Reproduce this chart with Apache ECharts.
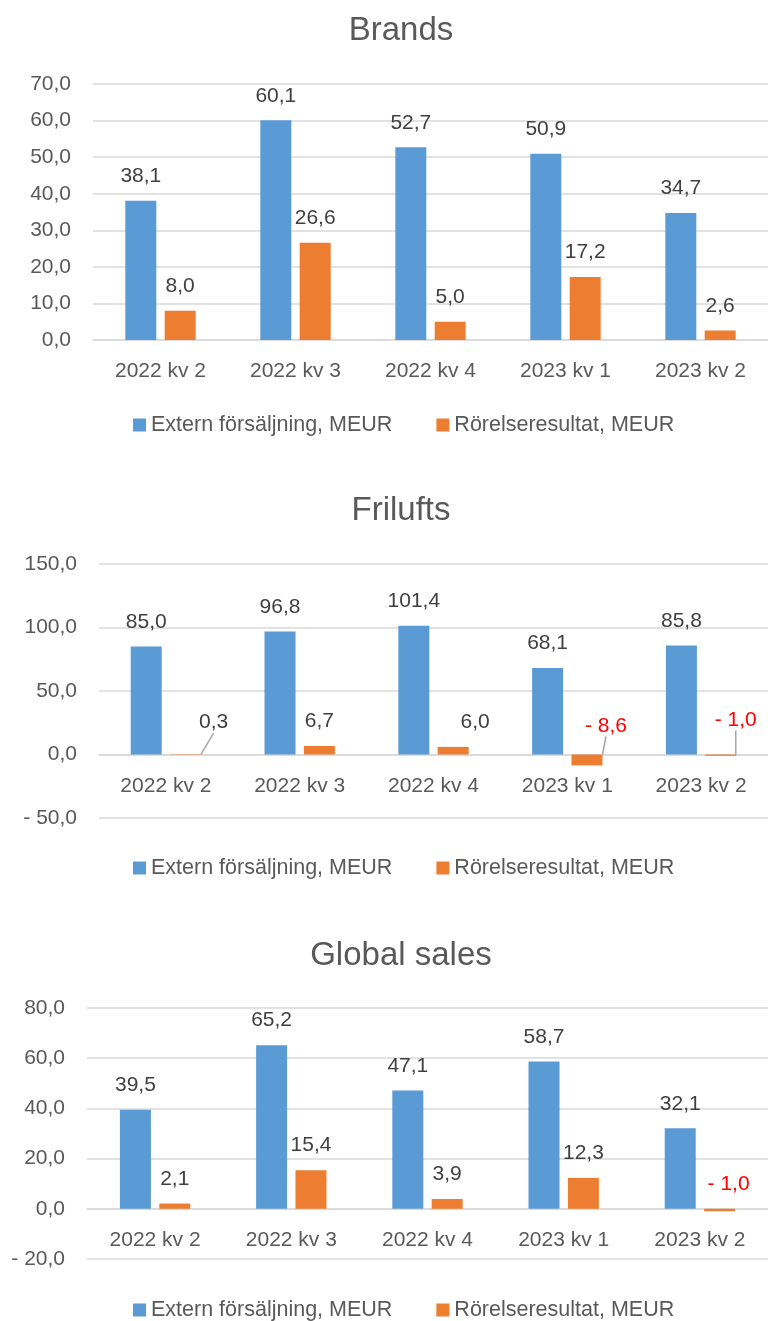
<!DOCTYPE html>
<html>
<head>
<meta charset="utf-8">
<script src="https://cdn.jsdelivr.net/npm/echarts@6/dist/echarts.min.js"></script>
<style>
  html, body { margin: 0; padding: 0; background: #fff; }
  #main { width: 768px; height: 1321px; }
</style>
</head>
<body>
<div id="main"></div>
<script>
// data
const categories = ['2022 kv 2', '2022 kv 3', '2022 kv 4', '2023 kv 1', '2023 kv 2']
const seriesNames = ['Extern försäljning, MEUR', 'Rörelseresultat, MEUR']
const chartTitles = ['Brands', 'Frilufts', 'Global sales']

const brandsSales = [38.1, 60.1, 52.7, 50.9, 34.7]
const brandsResult = [8.0, 26.6, 5.0, 17.2, 2.6]
const friluftsSales = [85.0, 96.8, 101.4, 68.1, 85.8]
const friluftsResult = [0.3, 6.7, 6.0, -8.6, -1.0]
const globalSales = [39.5, 65.2, 47.1, 58.7, 32.1]
const globalResult = [2.1, 15.4, 3.9, 12.3, -1.0]

// y axis ticks: min, max, step
const yMin = [0, -50, -20]
const yMax = [70, 150, 80]
const yStep = [10, 50, 20]

// layout / styling
const FONT = 'Liberation Sans'
const BLUE = '#5B9BD5'
const ORANGE = '#ED7D31'
const GRID_COLOR = '#D9D9D9'
const grids = [
  { left: 93, top: 84, width: 680, height: 256 },
  { left: 99, top: 564, width: 676, height: 254 },
  { left: 87, top: 1008, width: 690, height: 251 }
]
const titleTops = [9, 489, 934]
const legendTops = [409, 852, 1294]
// moved labels on the result series (Excel had them dragged)
const labelShift = [
  {},
  { 0: [28, -7], 2: [22, 0], 3: [19, -4], 4: [15, -10] },
  { 4: [9, 0] }
]
const leaderLines = [[], [0, 3, 4], []]

const fmt = (v) => {
  const s = Math.abs(v).toFixed(1).replace('.', ',')
  return v < 0 ? '- ' + s : s
}

const salesData = [brandsSales, friluftsSales, globalSales]
const resultData = [brandsResult, friluftsResult, globalResult]

const option = {
  animation: false,
  textStyle: { fontFamily: FONT },
  title: chartTitles.map((t, i) => ({
    text: t,
    left: 396,
    top: titleTops[i],
    textAlign: 'center',
    textStyle: { fontFamily: FONT, fontSize: 33, fontWeight: 'normal', color: '#595959' }
  })),
  legend: legendTops.map((top) => ({
    data: seriesNames,
    left: 128,
    top: top,
    icon: 'rect',
    itemWidth: 13,
    itemHeight: 13,
    itemGap: 44,
    selectedMode: false,
    textStyle: { fontFamily: FONT, fontSize: 21.5, color: '#595959' }
  })),
  grid: grids.map((g) => ({ ...g, containLabel: false })),
  xAxis: grids.map((g, i) => ({
    type: 'category',
    gridIndex: i,
    data: categories,
    position: 'bottom',
    // sit the axis on the zero line of the value axis
    offset: -g.height * (0 - yMin[i]) / (yMax[i] - yMin[i]),
    axisTick: { show: false },
    axisLine: { show: true, onZero: false, lineStyle: { color: GRID_COLOR, width: 1.5 } },
    axisLabel: { fontFamily: FONT, fontSize: 21, color: '#595959', margin: 21 }
  })),
  yAxis: grids.map((g, i) => ({
    type: 'value',
    gridIndex: i,
    min: yMin[i],
    max: yMax[i],
    interval: yStep[i],
    axisLine: { show: false },
    axisTick: { show: false },
    splitLine: { lineStyle: { color: GRID_COLOR, width: 1.5 } },
    axisLabel: {
      fontFamily: FONT, fontSize: 21, color: '#595959', margin: 22,
      formatter: fmt
    }
  })),
  series: []
}

for (let i = 0; i < 3; i++) {
  option.series.push({
    name: seriesNames[0],
    type: 'bar',
    xAxisIndex: i,
    yAxisIndex: i,
    barWidth: 31,
    barGap: '27%',
    itemStyle: { color: BLUE },
    label: {
      show: true, position: 'top', distance: 14,
      fontFamily: FONT, fontSize: 21, color: '#404040',
      formatter: (p) => fmt(p.value)
    },
    data: salesData[i]
  })
  const shifts = labelShift[i]
  option.series.push({
    name: seriesNames[1],
    type: 'bar',
    xAxisIndex: i,
    yAxisIndex: i,
    barWidth: 31,
    barGap: '27%',
    itemStyle: { color: ORANGE },
    label: {
      show: true, position: 'top', distance: 14,
      fontFamily: FONT, fontSize: 21,
      formatter: (p) => fmt(p.value)
    },
    labelLayout: (p) => {
      const s = shifts[p.dataIndex]
      return s ? { dx: s[0], dy: s[1] } : {}
    },
    data: resultData[i].map((v, j) => ({
      value: v,
      label: { color: v < 0 ? '#FF0000' : '#404040' },
      labelLine: {
        show: leaderLines[i].includes(j),
        lineStyle: { color: '#A6A6A6', width: 1.5 }
      }
    }))
  })
}

const chart = echarts.init(document.getElementById('main'))
chart.setOption(option)
</script>
</body>
</html>
